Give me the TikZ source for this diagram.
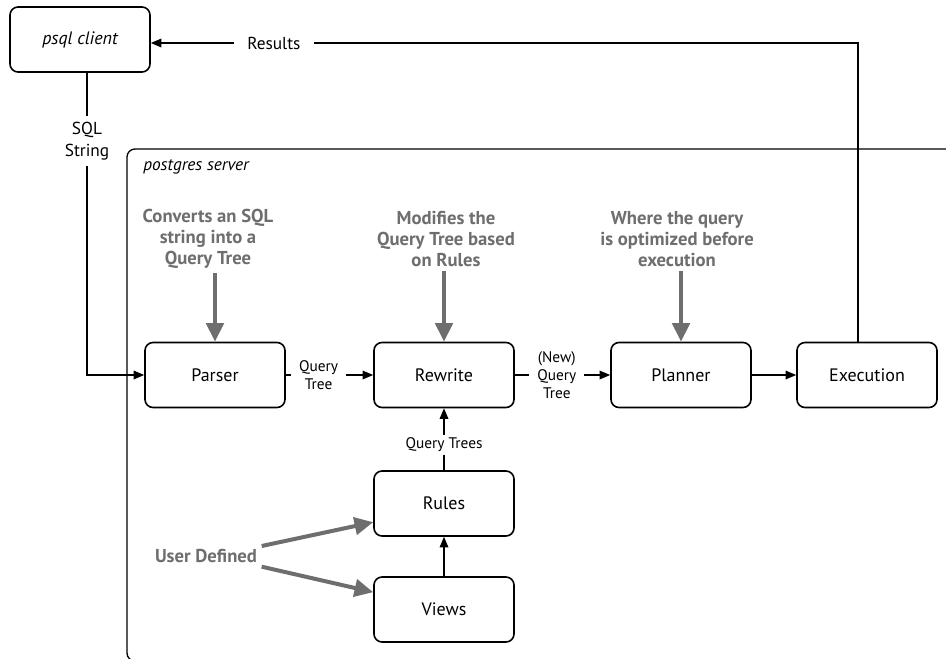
\documentclass[tikz,border=0pt]{standalone}
\usepackage{fontspec}
\setmainfont{PT Sans}
\usetikzlibrary{arrows.meta, positioning, calc}
\definecolor{notegray}{RGB}{110,110,110}
\tikzset{
  box/.style={draw, line width=1.2pt, rounded corners=6pt, minimum width=105pt, minimum height=48.75pt, font=\fontsize{13.5}{15}\selectfont},
  lbl/.style={fill=white, align=center, inner xsep=6pt, inner ysep=3pt, font=\fontsize{11.5}{13.4}\selectfont},
  biglbl/.style={fill=white, align=center, inner xsep=10pt, inner ysep=4.5pt, font=\fontsize{13}{16}\selectfont},
  note/.style={text=notegray, align=center, font=\bfseries\fontsize{14}{15.75}\selectfont},
  arr/.style={-{Triangle[length=8pt,width=6.5pt]}, line width=1pt},
  notearr/.style={-{Triangle[length=14pt,width=13pt]}, line width=3pt, notegray},
}

\begin{document}
\begin{tikzpicture}[x=0.75pt, y=-0.75pt]
  \useasboundingbox (0,0) rectangle (946,658);
  \clip (0,0) rectangle (946,658);

  % Server frame (runs off the page)
  \draw[line width=1pt, rounded corners=6pt] (127,149) rectangle (1000,661);
  \node[font=\itshape\fontsize{13}{15}\selectfont] (srvlabel) at (196,167) {postgres server};

  % Boxes
  \node[box, font=\itshape\fontsize{13.5}{15}\selectfont] (client) at (80,39.5) {psql client};
  \node[box] (parser) at (215,375) {Parser};
  \node[box] (rewrite) at (444,375) {Rewrite};
  \node[box] (planner) at (681,375) {Planner};
  \node[box] (exec) at (867,375) {Execution};
  \node[box] (rules) at (444,503.5) {Rules};
  \node[box] (views) at (444,609.5) {Views};

  % Notes
  \node[note] (convnote) at (208,239) {Converts an SQL\\string into a\\Query Tree};
  \node[note] (modnote) at (446,239) {Modifies the\\Query Tree based\\on Rules};
  \node[note] (wherenote) at (677,239) {Where the query\\is optimized before\\execution};
  \node[note] (userdef) at (206,556) {User Defined};

  % Main flow
  \draw[arr] (parser) -- node[lbl, pos=0.375]{Query\\Tree} (rewrite);
  \draw[arr] (rewrite) -- node[lbl, pos=0.44]{(New)\\Query\\Tree} (planner);
  \draw[arr] (planner) -- (exec);
  \draw[arr] (rules) -- node[lbl, pos=0.41, inner ysep=2pt]{Query Trees} (rewrite);
  \draw[arr] (views) -- (rules);

  % Client in and out
  \coordinate (sqlx) at (87,0);
  \coordinate (resx) at (858,0);
  \coordinate (resy) at (0,43);
  \draw[arr] (client.south -| sqlx) |- node[biglbl, pos=0.113]{SQL\\String} (parser.west);
  \draw[arr] (exec.north -| resx) |- node[biglbl, pos=0.913]{Results} (client.east |- resy);

  % Note arrows
  \draw[notearr] (parser.north |- convnote.south) -- (parser.north);
  \draw[notearr] (rewrite.north |- modnote.south) -- (rewrite.north);
  \draw[notearr] (planner.north |- wherenote.south) -- (planner.north);
  \draw[notearr] ([yshift=7.5pt]userdef.east) -- ([yshift=-14pt]rules.west);
  \draw[notearr] ([yshift=-8pt]userdef.east) -- ([yshift=13pt]views.west);
\end{tikzpicture}
\end{document}
